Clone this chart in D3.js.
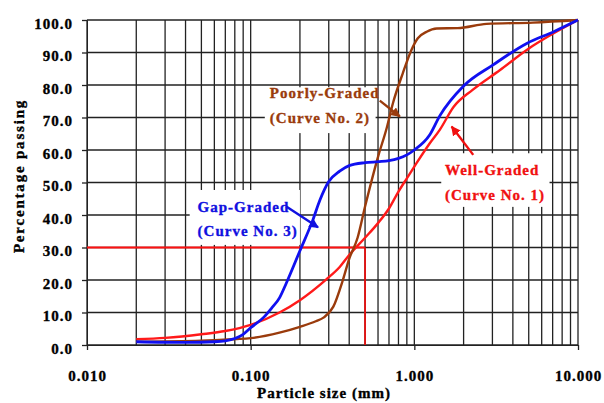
<!DOCTYPE html>
<html lang="en">
<head>
  <meta charset="UTF-8">
  <title>Particle size distribution</title>
  <script src="https://d3js.org/d3.v7.min.js"></script>
  <style>
    body { margin: 0; background: #fff; }
    svg text { font-family: "Liberation Serif", "Times New Roman", serif; font-weight: bold; stroke-width: 0.35px; }
  </style>
</head>
<body>
  <svg width="604" height="403"></svg>

  <script>
    // Well-graded (Curve No. 1)
    const wellSize = [0.02, 0.03, 0.05, 0.07, 0.1, 0.15, 0.2, 0.29, 0.35, 0.4, 0.5, 0.6, 0.7, 0.8, 0.9, 1.0, 1.24, 1.43, 1.74, 2.27, 3.34, 4.86, 7.1, 10];
    const wellPass = [1.8, 2.2, 3.3, 4.3, 6.2, 10, 13.8, 20.2, 24, 27.7, 33, 37.5, 42, 47.2, 51.3, 54.9, 62, 66.2, 73.3, 78.5, 84.6, 90.8, 95.9, 100];

    // Poorly-graded (Curve No. 2)
    const poorSize = [0.02, 0.05, 0.08, 0.1, 0.15, 0.2, 0.25, 0.28, 0.32, 0.366, 0.4, 0.45, 0.5, 0.6, 0.68, 0.74, 0.85, 0.96, 1.05, 1.19, 1.37, 1.84, 2.76, 5.3, 10];
    const poorPass = [1.0, 1.3, 1.8, 2.1, 3.8, 5.6, 7.3, 8.5, 11.8, 20, 26.5, 33, 42.6, 57.9, 67, 74.4, 83.6, 90.8, 94.4, 96.4, 97.4, 97.5, 98.8, 99.2, 100];

    // Gap-graded (Curve No. 3)
    const gapSize = [0.02, 0.04, 0.06, 0.07, 0.08, 0.09, 0.1, 0.12, 0.134, 0.15, 0.165, 0.2, 0.24, 0.265, 0.3, 0.35, 0.4, 0.5, 0.6, 0.7, 0.8, 0.9, 1.0, 1.24, 1.43, 2.0, 3.03, 4.86, 7.1, 10];
    const gapPass = [1.0, 0.8, 1.0, 1.3, 2.0, 3.3, 5.3, 8.5, 11.3, 14.5, 19, 29, 38.5, 44.6, 50.3, 53.5, 55.2, 56.1, 56.4, 56.7, 57.4, 58.5, 60, 64.6, 70.5, 79.7, 86.2, 92.8, 96.4, 100];

    const xTickValues = [0.01, 0.1, 1, 10];
    const yTickValues = [0, 10, 20, 30, 40, 50, 60, 70, 80, 90, 100];

    // D30 reference lines
    const refSize = 0.5;
    const refPass = 30;

    const svg = d3.select("svg");
    const plotLeft = 87, plotRight = 578, plotTop = 20, plotBottom = 345;

    const x = d3.scaleLog().domain([0.01, 10]).range([plotLeft, plotRight]);
    const y = d3.scaleLinear().domain([0, 100]).range([plotBottom, plotTop]);

    const gridColor = "#222";

    // grid
    svg.append("g")
      .selectAll("line")
      .data(x.ticks())
      .enter().append("line")
      .attr("x1", d => x(d)).attr("x2", d => x(d))
      .attr("y1", plotTop).attr("y2", plotBottom)
      .attr("stroke", gridColor).attr("stroke-width", 1.3);

    svg.append("g")
      .selectAll("line")
      .data(yTickValues)
      .enter().append("line")
      .attr("x1", plotLeft).attr("x2", plotRight)
      .attr("y1", d => y(d)).attr("y2", d => y(d))
      .attr("stroke", gridColor).attr("stroke-width", 1.3);

    // axes
    const xAxis = svg.append("g")
      .attr("transform", `translate(0,${plotBottom})`)
      .call(d3.axisBottom(x).tickValues(xTickValues).tickFormat(d3.format(".3f")).tickSize(5).tickSizeOuter(0));
    xAxis.select(".domain").attr("stroke", gridColor);
    xAxis.selectAll("line").attr("stroke", gridColor).attr("stroke-width", 1.3);
    xAxis.selectAll("text")
      .attr("y", 36).attr("dy", 0)
      .style("font-size", "15px").style("letter-spacing", "1px")
      .attr("fill", "#000").attr("stroke", "#000");

    const yAxis = svg.append("g")
      .attr("transform", `translate(${plotLeft},0)`)
      .call(d3.axisLeft(y).tickValues(yTickValues).tickFormat(d3.format(".1f")).tickSize(5).tickSizeOuter(0));
    yAxis.select(".domain").attr("stroke", gridColor);
    yAxis.selectAll("line").attr("stroke", gridColor).attr("stroke-width", 1.3);
    yAxis.selectAll("text")
      .attr("x", -14).attr("dy", 8)
      .style("font-size", "15px").style("letter-spacing", "1px")
      .attr("fill", "#000").attr("stroke", "#000");

    // axis titles
    svg.append("text")
      .attr("x", 324).attr("y", 398)
      .attr("text-anchor", "middle")
      .style("font-size", "15px").style("letter-spacing", "1px")
      .attr("fill", "#000").attr("stroke", "#000")
      .text("Particle size (mm)");

    svg.append("text")
      .attr("transform", "translate(24,176) rotate(-90)")
      .attr("text-anchor", "middle")
      .style("font-size", "15px").style("letter-spacing", "1.8px")
      .attr("fill", "#000").attr("stroke", "#000")
      .text("Percentage passing");

    // annotations: white boxes behind labels (data units)
    const notes = [
      { lines: ["Poorly-Graded", "(Curve No. 2)"], color: "#9a3b0c", x0: 0.122, x1: 0.58, p0: 79.3, p1: 65.2, tx: 0.131, ty: [76, 68.3], from: [0.615, 75.2], to: [0.815, 70.3] },
      { lines: ["Gap-Graded", "(Curve No. 3)"], color: "#1010e0", x0: 0.0424, x1: 0.2, p0: 47.7, p1: 30.8, tx: 0.0474, ty: [41, 33.5], from: [0.165, 42.6], to: [0.258, 36.2] },
      { lines: ["Well-Graded", "(Curve No. 1)"], color: "#f01010", x0: 1.46, x1: 6.7, p0: 59, p1: 42.5, tx: 1.54, ty: [52.3, 44.6], from: [2.29, 58.5], to: [1.69, 67.2] }
    ];

    svg.append("g").selectAll("rect")
      .data(notes)
      .enter().append("rect")
      .attr("x", d => x(d.x0)).attr("width", d => x(d.x1) - x(d.x0))
      .attr("y", d => y(d.p0)).attr("height", d => y(d.p1) - y(d.p0))
      .attr("fill", "#fff");

    // reference lines at D30
    svg.append("line")
      .attr("x1", x(0.01)).attr("x2", x(refSize))
      .attr("y1", y(refPass)).attr("y2", y(refPass))
      .attr("stroke", "#ff1010").attr("stroke-width", 1.8);
    svg.append("line")
      .attr("x1", x(refSize)).attr("x2", x(refSize))
      .attr("y1", y(refPass)).attr("y2", y(0))
      .attr("stroke", "#e81010").attr("stroke-width", 1.8);

    // curves
    const line = d3.line().x(d => x(d[0])).y(d => y(d[1])).curve(d3.curveMonotoneX);
    const curves = [
      { size: wellSize, pass: wellPass, color: "#ff1a1a", w: 2.4 },
      { size: poorSize, pass: poorPass, color: "#9a3b0c", w: 2.4 },
      { size: gapSize, pass: gapPass, color: "#1010f0", w: 2.8 }
    ];
    svg.append("g").selectAll("path")
      .data(curves)
      .enter().append("path")
      .attr("d", c => line(c.size.map((s, i) => [s, c.pass[i]])))
      .attr("fill", "none")
      .attr("stroke", c => c.color)
      .attr("stroke-width", c => c.w)
      .attr("stroke-linejoin", "round");

    // arrowheads
    const defs = svg.append("defs");
    notes.forEach((n, i) => {
      defs.append("marker")
        .attr("id", "arrow" + i)
        .attr("viewBox", "0 0 10 10")
        .attr("refX", 9).attr("refY", 5)
        .attr("markerWidth", 4).attr("markerHeight", 4)
        .attr("orient", "auto")
        .append("path")
        .attr("d", "M0,0L10,5L0,10z")
        .attr("fill", n.color);
    });

    svg.append("g").selectAll("line")
      .data(notes)
      .enter().append("line")
      .attr("x1", d => x(d.from[0])).attr("y1", d => y(d.from[1]))
      .attr("x2", d => x(d.to[0])).attr("y2", d => y(d.to[1]))
      .attr("stroke", d => d.color).attr("stroke-width", 2.4)
      .attr("marker-end", (d, i) => `url(#arrow${i})`);

    notes.forEach(n => {
      n.lines.forEach((t, i) => {
        svg.append("text")
          .attr("x", x(n.tx)).attr("y", y(n.ty[i]))
          .style("font-size", "15px").style("letter-spacing", "1px")
          .attr("fill", n.color).attr("stroke", n.color)
          .text(t);
      });
    });
  </script>
</body>
</html>
